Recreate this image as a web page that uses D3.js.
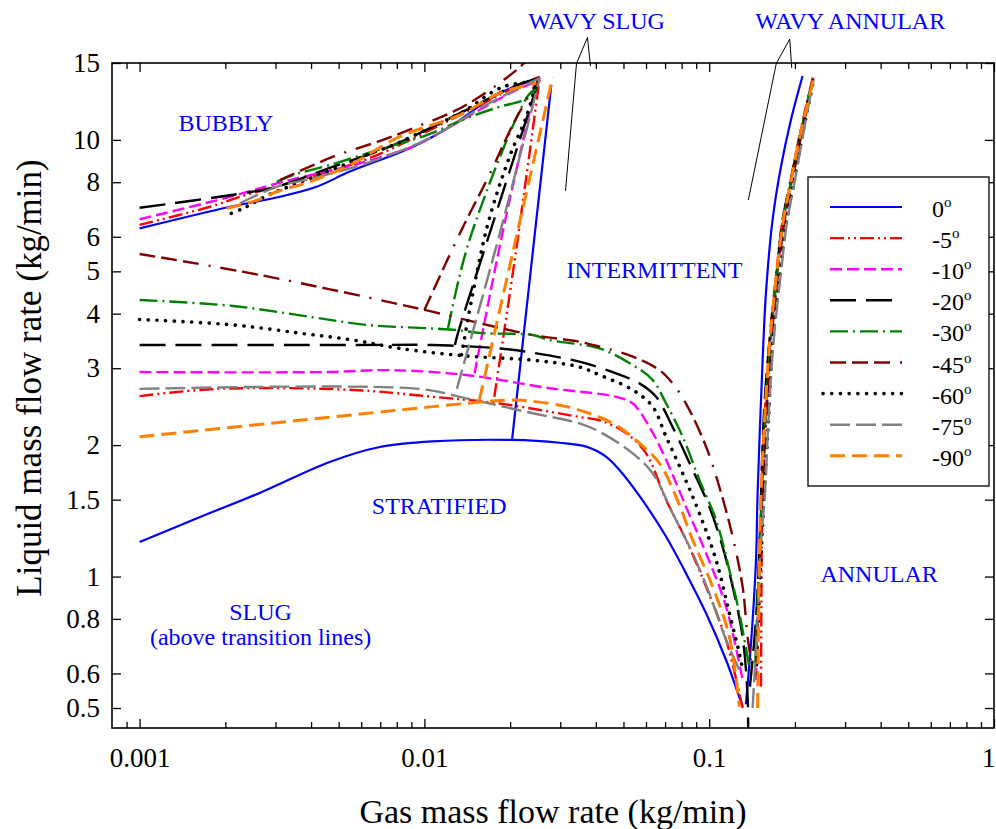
<!DOCTYPE html>
<html>
<head>
<meta charset="utf-8">
<script src="https://cdn.jsdelivr.net/npm/d3@7"></script>
<style>
  body { margin: 0; background: #fff; }
  svg { display: block; }
  text { font-family: "Liberation Serif", "Times New Roman", serif; }
</style>
</head>
<body>
<svg id="chart" width="996" height="829"></svg>
<script>
// Pipe inclination angles (degrees) and their line styles
const angleLabels = ["0", "-5", "-10", "-20", "-30", "-45", "-60", "-75", "-90"];
const lineColors  = ["#0000ff", "#ff0000", "#ff00ff", "#000000", "#008000", "#800000", "#000000", "#808080", "#ff8000"];
const lineDashes  = ["", "14,4,2,4,2,4", "12,5", "26,10", "18,5,2,5", "16,6,16,6,16,10,2,10", "0.1,8.6", "20,6", "15,7"];
const lineWidths  = [2.2, 2.4, 2.4, 2.4, 2.4, 2.4, 3.6, 2.4, 3];

// Axis ticks
const xMajorTicks = [0.001, 0.01, 0.1, 1];
const xTickLabels = ["0.001", "0.01", "0.1", "1"];
const xMinorTicks = [0.0009, 0.002, 0.003, 0.004, 0.005, 0.006, 0.007, 0.008, 0.009,
                     0.02, 0.03, 0.04, 0.05, 0.06, 0.07, 0.08, 0.09,
                     0.2, 0.3, 0.4, 0.5, 0.6, 0.7, 0.8, 0.9];
const yTickValues = [0.5, 0.6, 0.8, 1, 1.5, 2, 3, 4, 5, 6, 8, 10, 15];

// Transition boundaries, one entry per angle: [gas kg/min, liquid kg/min]
// Bubbly / intermittent boundary
const bubblyBoundary = [
  [[0.001,6.27],[0.00208,7.03],[0.00311,7.41],[0.00418,7.81],[0.00547,8.46],[0.00912,9.65],[0.0126,10.82],[0.0152,11.81],[0.0184,12.79],[0.0222,13.48],[0.0254,13.9]],
  [[0.001,6.39],[0.00177,7.03],[0.00225,7.41],[0.00365,8.09],[0.0066,9.15],[0.0123,11.11],[0.021,13.24],[0.0254,13.96]],
  [[0.001,6.58],[0.00208,7.41],[0.00319,8.02],[0.00593,8.84],[0.00937,9.73],[0.0123,10.72],[0.0205,12.9],[0.0247,13.6]],
  [[0.001,6.99],[0.00231,7.55],[0.00303,7.81],[0.00478,8.68],[0.00755,9.65],[0.0107,10.72],[0.0152,12.02],[0.0204,13.24],[0.0254,13.86]],
  [[0.00303,8.02],[0.00346,8.31],[0.00465,8.76],[0.00716,9.56],[0.0102,10.26],[0.014,11.2],[0.0184,11.91],[0.0222,12.34],[0.0247,13.1]],
  [[0.00311,8.09],[0.00478,9.15],[0.00716,10.0],[0.00912,10.63],[0.014,12.02],[0.0222,14.92],[0.0232,15.6]],
  [[0.0021,6.79],[0.00228,6.94],[0.00244,7.1],[0.00283,7.48],[0.00346,7.88],[0.00504,8.68],[0.00626,9.24],[0.00776,9.73],[0.011,10.82],[0.014,11.7],[0.0174,12.89],[0.0199,13.36],[0.024,13.59]],
  [[0.00225,7.16],[0.00303,7.81],[0.00406,8.17],[0.00626,8.84],[0.0107,10.17],[0.016,11.91],[0.0254,13.86]],
  [[0.00202,6.97],[0.00264,7.31],[0.00303,7.61],[0.00396,8.02],[0.00547,8.76],[0.00819,10.17],[0.0133,11.4],[0.0184,12.79],[0.0247,13.48]]
];

// Wavy slug boundary (steep branch)
const wavySlugBoundary = [
  [[0.0203,2.047],[0.0245,6.22],[0.0279,13.36]],
  [[0.0176,2.58],[0.021,5.6],[0.0254,13.86]],
  [[0.015,2.92],[0.0189,6.22],[0.0247,13.48]],
  [[0.0128,3.39],[0.0131,3.6],[0.0171,6.22],[0.0254,13.86]],
  [[0.0121,3.7],[0.0144,5.9],[0.0232,12.67],[0.0247,13.1]],
  [[0.01,4.08],[0.0135,6.22],[0.0169,8.31],[0.0207,11.01],[0.0254,13.9]],
  [[0.0135,3.22],[0.0165,6.22],[0.0199,9.15],[0.0228,11.3],[0.0247,13.48]],
  [[0.013,2.69],[0.0184,6.11],[0.0254,13.86]],
  [[0.0156,2.54],[0.0213,6.22],[0.0282,13.9]]
];

// Stratified / intermittent boundary
const stratifiedBoundary = [
  [[0.001,1.2],[0.00163,1.369],[0.00264,1.554],[0.00465,1.83],[0.00697,1.98],[0.0107,2.04],[0.0202,2.055],[0.0298,2.025],[0.037,1.984],[0.0435,1.88],[0.0484,1.754],[0.0569,1.53],[0.0706,1.234],[0.0829,1.017],[0.0975,0.824],[0.1146,0.644],[0.131,0.503]],
  [[0.001,2.59],[0.00186,2.69],[0.00562,2.675],[0.0107,2.58],[0.0184,2.49],[0.035,2.32],[0.0412,2.28],[0.0511,2.13],[0.06,1.915],[0.0706,1.497],[0.0829,1.213],[0.0975,0.948],[0.1146,0.716],[0.131,0.5]],
  [[0.001,2.94],[0.0045,2.94],[0.0075,2.97],[0.014,2.895],[0.0275,2.7],[0.0471,2.58],[0.0539,2.49],[0.0617,2.2],[0.0706,1.849],[0.0829,1.445],[0.0975,1.13],[0.1146,0.853],[0.131,0.58]],
  [[0.001,3.39],[0.00562,3.39],[0.0107,3.39],[0.0184,3.33],[0.024,3.256],[0.035,3.105],[0.0471,2.92],[0.0569,2.77],[0.0651,2.58],[0.0744,2.2],[0.0875,1.754],[0.1001,1.445],[0.1115,1.17],[0.1209,0.948],[0.131,0.728],[0.1364,0.531],[0.137,0.43]],
  [[0.001,4.3],[0.00213,4.165],[0.00406,3.925],[0.00626,3.77],[0.0123,3.68],[0.016,3.61],[0.024,3.575],[0.0275,3.48],[0.0412,3.33],[0.0539,3.05],[0.0633,2.82],[0.0706,2.49],[0.0807,2.09],[0.0924,1.664],[0.1057,1.348],[0.1177,1.035],[0.1276,0.824],[0.1383,0.622]],
  [[0.001,5.48],[0.00264,4.906],[0.01,4.08],[0.014,3.87],[0.024,3.575],[0.035,3.45],[0.0412,3.36],[0.0539,3.19],[0.0669,2.97],[0.0744,2.77],[0.0829,2.49],[0.0975,1.984],[0.1085,1.606],[0.1209,1.234],[0.131,0.948],[0.1364,0.728],[0.1402,0.644]],
  [[0.001,3.88],[0.00213,3.77],[0.00365,3.61],[0.00562,3.48],[0.00819,3.33],[0.014,3.2],[0.024,3.13],[0.035,3.02],[0.0412,2.895],[0.0539,2.675],[0.0633,2.45],[0.0706,2.09],[0.0807,1.724],[0.0924,1.396],[0.1057,1.091],[0.1177,0.824],[0.1276,0.667],[0.131,0.611]],
  [[0.001,2.69],[0.00962,2.69],[0.014,2.56],[0.024,2.366],[0.035,2.244],[0.0412,2.146],[0.0539,1.915],[0.0633,1.724],[0.0744,1.396],[0.0875,1.13],[0.1001,0.915],[0.1146,0.716],[0.1276,0.611]],
  [[0.001,2.09],[0.00365,2.28],[0.0107,2.45],[0.0184,2.53],[0.021,2.537],[0.0315,2.45],[0.0458,2.244],[0.0569,2.02],[0.0669,1.817],[0.0765,1.523],[0.0875,1.213],[0.1028,0.948],[0.1177,0.728],[0.1276,0.5035]]
];

// Intermittent / annular boundary
const annularBoundary = [
  [[0.1345,0.51],[0.1405,0.716],[0.146,1.091],[0.1479,1.551],[0.1532,2.87],[0.1582,4.45],[0.1669,6.55],[0.1786,8.68],[0.1936,11.11],[0.2127,14.01]],
  [[0.152,0.56],[0.1525,0.88],[0.1535,1.55],[0.156,2.2],[0.1625,3.42],[0.1715,4.86],[0.181,6.55],[0.191,7.81],[0.207,10.17],[0.231,13.9]],
  [[0.146,0.58],[0.149,1.0],[0.153,1.55],[0.157,2.2],[0.164,3.42],[0.173,4.86],[0.183,6.55],[0.193,7.81],[0.209,10.17],[0.232,13.8]],
  [[0.139,0.56],[0.146,0.8],[0.151,1.3],[0.1535,1.9],[0.157,2.6],[0.1625,3.42],[0.172,4.86],[0.181,6.55],[0.1915,7.81],[0.208,10.17],[0.231,13.8]],
  [[0.145,0.62],[0.149,1.0],[0.153,1.55],[0.157,2.2],[0.164,3.42],[0.173,4.86],[0.182,6.55],[0.192,7.81],[0.208,10.17],[0.231,13.8]],
  [[0.147,0.64],[0.15,1.0],[0.154,1.55],[0.158,2.2],[0.165,3.42],[0.174,4.86],[0.184,6.55],[0.194,7.81],[0.21,10.17],[0.232,13.8]],
  [[0.146,0.6],[0.151,1.0],[0.156,1.55],[0.161,2.2],[0.167,3.42],[0.177,4.86],[0.187,6.55],[0.197,7.81],[0.212,10.17],[0.232,13.6]],
  [[0.142,0.5],[0.148,0.8],[0.152,1.2],[0.157,1.55],[0.161,2.2],[0.168,3.42],[0.178,4.86],[0.188,6.55],[0.198,7.81],[0.213,10.17],[0.232,13.7]],
  [[0.148,0.5],[0.149,0.8],[0.152,1.55],[0.156,2.2],[0.163,3.42],[0.172,4.86],[0.182,6.55],[0.192,7.81],[0.208,10.17],[0.234,14.0]]
];

// Flow regime names, placed in data units
const regionLabels = [
  { text: "BUBBLY", gas: 0.00201, liquid: 10.48 },
  { text: "INTERMITTENT", gas: 0.0642, liquid: 4.83 },
  { text: "STRATIFIED", gas: 0.01127, liquid: 1.391 },
  { text: "ANNULAR", gas: 0.395, liquid: 0.9716 },
  { text: "SLUG", gas: 0.00266, liquid: 0.795 },
  { text: "(above transition lines)", gas: 0.00266, liquid: 0.697 },
  { text: "WAVY SLUG", gas: 0.0402, liquid: 17.95 },
  { text: "WAVY ANNULAR", gas: 0.3126, liquid: 17.95 }
];

// Leader lines from the wavy labels into the plot
const pointerLines = [
  [[0.03129,7.64],[0.0342,14.96],[0.03737,17.16],[0.03829,14.76]],
  [[0.1372,7.28],[0.172,14.96],[0.1918,17.02],[0.1949,14.61]]
];

const plot = { left: 112, right: 994, top: 63, bottom: 728 };
const svg = d3.select("#chart");

const x = d3.scaleLog().domain([0.0008, 1]).range([plot.left, plot.right]);
const y = d3.scaleLog().domain([0.45, 15]).range([plot.bottom, plot.top]);

svg.append("defs").append("clipPath").attr("id", "plotClip")
  .append("rect")
  .attr("x", plot.left).attr("y", plot.top)
  .attr("width", plot.right - plot.left).attr("height", plot.bottom - plot.top);

const curve = d3.line()
  .x(d => x(d[0])).y(d => y(d[1]))
  .curve(d3.curveCatmullRom.alpha(0.5));

// Boundary curves
const curves = svg.append("g").attr("clip-path", "url(#plotClip)");
angleLabels.forEach((a, i) => {
  const g = curves.append("g")
    .attr("fill", "none")
    .attr("stroke", lineColors[i])
    .attr("stroke-width", lineWidths[i])
    .attr("stroke-dasharray", lineDashes[i] || null)
    .attr("stroke-linecap", i === 6 ? "round" : "butt")
    .attr("stroke-linejoin", "round");
  [bubblyBoundary[i], wavySlugBoundary[i], stratifiedBoundary[i], annularBoundary[i]]
    .forEach(pts => g.append("path").attr("d", curve(pts)));
});

// Frame
svg.append("rect")
  .attr("x", plot.left).attr("y", plot.top)
  .attr("width", plot.right - plot.left).attr("height", plot.bottom - plot.top)
  .attr("fill", "none").attr("stroke", "#000").attr("stroke-width", 1.6);

function styleAxis(g) {
  g.select(".domain").remove();
  g.selectAll(".tick line").attr("stroke", "#000").attr("stroke-width", 1.3);
  g.selectAll(".tick text").attr("fill", "#000").attr("font-size", 27)
    .attr("font-family", "'Liberation Serif', 'Times New Roman', serif");
}

// Inward ticks on all four sides
svg.append("g").attr("transform", `translate(0,${plot.bottom})`)
  .call(d3.axisBottom(x).tickValues(xMajorTicks).tickSize(-9).tickPadding(20)
    .tickFormat((d, i) => xTickLabels[i]))
  .call(styleAxis)
  .call(g => g.selectAll(".tick text").filter(d => d === 1)
    .attr("text-anchor", "end").attr("dx", 1));
svg.append("g").attr("transform", `translate(0,${plot.bottom})`)
  .call(d3.axisBottom(x).tickValues(xMinorTicks).tickSize(-6).tickFormat(""))
  .call(styleAxis);
svg.append("g").attr("transform", `translate(0,${plot.top})`)
  .call(d3.axisTop(x).tickValues(xMajorTicks).tickSize(-9).tickFormat(""))
  .call(styleAxis);
svg.append("g").attr("transform", `translate(0,${plot.top})`)
  .call(d3.axisTop(x).tickValues(xMinorTicks).tickSize(-6).tickFormat(""))
  .call(styleAxis);
svg.append("g").attr("transform", `translate(${plot.left},0)`)
  .call(d3.axisLeft(y).tickValues(yTickValues).tickSize(-9).tickPadding(12)
    .tickFormat(d => String(d)))
  .call(styleAxis);
svg.append("g").attr("transform", `translate(${plot.right},0)`)
  .call(d3.axisRight(y).tickValues(yTickValues).tickSize(-9).tickFormat(""))
  .call(styleAxis);

// Axis titles
svg.append("text")
  .attr("x", 553).attr("y", 823)
  .attr("text-anchor", "middle").attr("font-size", 34).attr("fill", "#000")
  .text("Gas mass flow rate (kg/min)");
svg.append("text")
  .attr("transform", `translate(41,378) rotate(-90)`)
  .attr("text-anchor", "middle").attr("font-size", 35).attr("fill", "#000")
  .text("Liquid mass flow rate (kg/min)");

// Regime labels
svg.append("g").selectAll("text").data(regionLabels).join("text")
  .attr("x", d => x(d.gas)).attr("y", d => y(d.liquid))
  .attr("text-anchor", "middle").attr("font-size", 24).attr("fill", "#0000ff")
  .text(d => d.text);

// Leader lines
const leader = d3.line().x(d => x(d[0])).y(d => y(d[1]));
svg.append("g").selectAll("path").data(pointerLines).join("path")
  .attr("d", leader).attr("fill", "none").attr("stroke", "#000").attr("stroke-width", 1);

// Legend
const legend = svg.append("g");
legend.append("rect")
  .attr("x", 808).attr("y", 177).attr("width", 181).attr("height", 309)
  .attr("fill", "#fff").attr("stroke", "#000").attr("stroke-width", 1.3);
angleLabels.forEach((a, i) => {
  const rowY = 207 + i * 31.1;
  legend.append("line")
    .attr("x1", i === 6 ? 823 : 830).attr("x2", 902)
    .attr("y1", rowY).attr("y2", rowY)
    .attr("stroke", lineColors[i]).attr("stroke-width", lineWidths[i])
    .attr("stroke-dasharray", lineDashes[i] || null)
    .attr("stroke-linecap", i === 6 ? "round" : "butt");
  const t = legend.append("text")
    .attr("x", 932).attr("y", rowY + 10)
    .attr("font-size", 24).attr("fill", "#000");
  t.append("tspan").text(a);
  t.append("tspan").attr("font-size", 15).attr("dy", -10).text("o");
});
</script>
</body>
</html>
